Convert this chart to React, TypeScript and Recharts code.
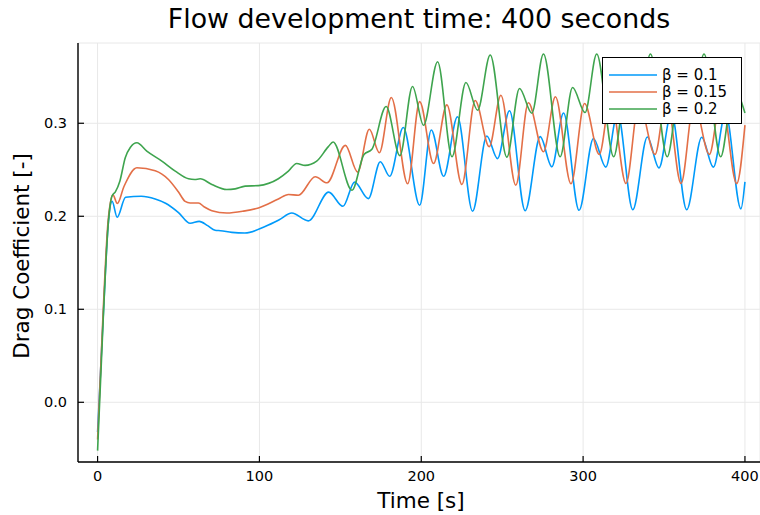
import React from 'react';
import { LineChart, Line, XAxis, YAxis, CartesianGrid, Legend } from 'recharts';

const FONT = '"DejaVu Sans", Verdana, sans-serif';

// Axis ticks
const timeTicks = [0, 100, 200, 300, 400];
const dragTicks = [0, 0.1, 0.2, 0.3];

// [time (s), drag coefficient] for each blockage ratio β
const beta010: [number, number][] = [
  [0, -0.032], [3.7, 0.1], [6.5, 0.19], [9, 0.216], [12.1, 0.199], [17.3, 0.2205],
  [27, 0.2215], [35.6, 0.2186], [42, 0.214], [50, 0.204], [57.2, 0.1925], [62.8, 0.1945],
  [68, 0.19], [72.6, 0.185], [76, 0.1845], [83, 0.1827], [91, 0.182], [103.5, 0.189],
  [112, 0.196], [120, 0.2035], [130.2, 0.195], [142.8, 0.226], [151.6, 0.2107],
  [158.8, 0.2367], [167.3, 0.219], [174.7, 0.2587], [180.5, 0.243], [188.9, 0.2955],
  [199, 0.2118], [206.2, 0.2928], [213.8, 0.243], [222.4, 0.307], [231.7, 0.2054],
  [240.5, 0.2863], [247.1, 0.262], [254.5, 0.3135], [264.2, 0.206], [273.5, 0.2856],
  [280.7, 0.2533], [287.9, 0.311], [297.5, 0.2064], [306.4, 0.2836], [314, 0.2528],
  [321.3, 0.311], [330.7, 0.207], [339.7, 0.2852], [346.9, 0.252], [354.5, 0.311],
  [364, 0.207], [373.3, 0.285], [380.5, 0.2528], [388, 0.311], [397.5, 0.208], [400, 0.237],
];

const beta015: [number, number][] = [
  [0, -0.04], [3.5, 0.1], [6.5, 0.195], [9.5, 0.223], [12.2, 0.2137], [16.3, 0.232],
  [24.3, 0.2522], [35.6, 0.2489], [43.8, 0.2395], [50, 0.226], [54.1, 0.216], [57.2, 0.2143],
  [62.3, 0.2143], [66, 0.21], [70.6, 0.206], [79.8, 0.2035], [90, 0.2055], [99.4, 0.209],
  [111.7, 0.2186], [117.9, 0.2234], [124.1, 0.2226], [134.5, 0.2425], [141.8, 0.236],
  [153.1, 0.2762], [160.7, 0.2475], [167.9, 0.2935], [174.1, 0.2683], [181.5, 0.3277],
  [191.6, 0.235], [199, 0.3233], [207.6, 0.2568], [215.8, 0.3198], [225.1, 0.2342],
  [233.3, 0.3244], [242, 0.2749], [249.2, 0.3302], [258.4, 0.2334], [266.2, 0.322],
  [275.5, 0.2694], [282.9, 0.3285], [292.5, 0.2349], [300.9, 0.3213], [310, 0.2665],
  [317, 0.328], [326.5, 0.2352], [334.5, 0.322], [344.4, 0.2665], [351.5, 0.328],
  [360.5, 0.2352], [368.5, 0.322], [378, 0.2665], [385.3, 0.328], [394.9, 0.2352], [400, 0.298],
];

const beta020: [number, number][] = [
  [0, -0.052], [3.5, 0.09], [6.5, 0.19], [9, 0.222], [10.9, 0.226], [13.8, 0.238],
  [17.1, 0.263], [20.2, 0.274], [24.3, 0.279], [30.4, 0.27], [39.7, 0.2593], [48, 0.2485],
  [56.2, 0.2403], [60, 0.2395], [63.4, 0.2403], [70.6, 0.2342], [79.8, 0.2288], [85, 0.2295],
  [91.2, 0.2324], [99.4, 0.233], [111.7, 0.2403], [117.9, 0.2485], [123, 0.2568],
  [128.2, 0.2547], [135.4, 0.2593], [142.6, 0.2749], [145.5, 0.2798], [157.2, 0.228],
  [164.6, 0.2665], [169.5, 0.272], [178.3, 0.318], [186.8, 0.2652], [194.6, 0.3396],
  [201.4, 0.2978], [210.1, 0.3662], [219, 0.264], [227.6, 0.3438], [234.8, 0.314],
  [242.6, 0.3734], [252.9, 0.2636], [260.7, 0.3374], [268.3, 0.3108], [275.5, 0.3745],
  [285.8, 0.264], [293.5, 0.3385], [301.2, 0.3115], [308.4, 0.3745], [318.9, 0.264],
  [326.6, 0.338], [334.2, 0.311], [341.6, 0.3745], [352, 0.264], [359.8, 0.338],
  [367.3, 0.311], [374.7, 0.3745], [385, 0.264], [393, 0.338], [400, 0.311],
];

const toRows = (pts: [number, number][]) => pts.map(([t, cd]) => ({ t, cd }));

const series = [
  { name: 'β = 0.1', color: '#009AFA', rows: toRows(beta010) },
  { name: 'β = 0.15', color: '#E36F47', rows: toRows(beta015) },
  { name: 'β = 0.2', color: '#3EA44E', rows: toRows(beta020) },
];

const tickStyle = { fontSize: 14.5, fill: '#000', fontFamily: FONT };

const LegendBox = (props: any) => {
  const payload = props.payload || [];
  return (
    <div
      style={{
        width: 140,
        height: 67,
        boxSizing: 'border-box',
        border: '1px solid #000',
        background: '#fff',
        padding: '8px 0 0 6px',
        fontFamily: FONT,
        fontSize: 15,
        color: '#000',
      }}
    >
      {payload.map((p: any) => (
        <div key={p.value} style={{ display: 'flex', alignItems: 'center', height: 17 }}>
          <svg width={48} height={4} style={{ display: 'block' }}>
            <line x1={0} y1={2} x2={48} y2={2} stroke={p.color} strokeWidth={1.6} />
          </svg>
          <span style={{ marginLeft: 5, whiteSpace: 'nowrap' }}>{p.value}</span>
        </div>
      ))}
    </div>
  );
};

const YLabel = (props: any) => {
  const vb = props.viewBox || { x: 0, y: 0, width: 0, height: 0 };
  const cx = vb.x + 21;
  const cy = vb.y + vb.height / 2 + 3.5;
  return (
    <text
      x={cx}
      y={cy}
      transform={`rotate(-90, ${cx}, ${cy})`}
      textAnchor="middle"
      dominantBaseline="central"
      fontFamily={FONT}
      fontSize={21.5}
      fill="#000"
    >
      Drag Coefficient [-]
    </text>
  );
};

const XLabel = (props: any) => {
  const vb = props.viewBox || { x: 0, y: 0, width: 0, height: 0 };
  const cx = vb.x + vb.width / 2 + 2;
  const cy = vb.y + 38;
  return (
    <text
      x={cx}
      y={cy}
      textAnchor="middle"
      dominantBaseline="central"
      fontFamily={FONT}
      fontSize={21.5}
      fill="#000"
    >
      Time [s]
    </text>
  );
};

export default function App() {
  return (
    <div style={{ position: 'fixed', left: 0, top: 0, width: 760, height: 515, background: '#fff' }}>
      <div
        style={{
          position: 'absolute',
          left: 78,
          top: 6,
          width: 682,
          textAlign: 'center',
          fontFamily: FONT,
          fontSize: 26.8,
          lineHeight: 1,
          color: '#000',
          whiteSpace: 'nowrap',
        }}
      >
        Flow development time: 400 seconds
      </div>
      <LineChart width={760} height={515} margin={{ top: 43, right: 0, bottom: 0, left: 0 }}>
        <CartesianGrid stroke="#e8e8e8" strokeWidth={1} />
        <XAxis
          type="number"
          dataKey="t"
          domain={[-12.1, 409.3]}
          ticks={timeTicks}
          height={53}
          tickSize={-6}
          tickMargin={15}
          tick={tickStyle}
          axisLine={{ stroke: '#000', strokeWidth: 1.4 }}
          tickLine={{ stroke: '#000', strokeWidth: 1.2 }}
          allowDataOverflow
          label={<XLabel />}
        />
        <YAxis
          type="number"
          domain={[-0.0642, 0.3863]}
          ticks={dragTicks}
          width={78}
          tickSize={-6}
          tickMargin={17}
          tick={tickStyle}
          tickFormatter={(v: number) => v.toFixed(1)}
          axisLine={{ stroke: '#000', strokeWidth: 1.4 }}
          tickLine={{ stroke: '#000', strokeWidth: 1.2 }}
          allowDataOverflow
          label={<YLabel />}
        />
        {series.map((s) => (
          <Line
            key={s.name}
            data={s.rows}
            dataKey="cd"
            name={s.name}
            type="monotone"
            stroke={s.color}
            strokeWidth={1.6}
            dot={false}
            activeDot={false}
            isAnimationActive={false}
          />
        ))}
        <Legend
          content={<LegendBox />}
          layout="vertical"
          align="center"
          verticalAlign="middle"
          wrapperStyle={{ left: 602, top: 57, width: 140, height: 67 }}
        />
      </LineChart>
    </div>
  );
}
